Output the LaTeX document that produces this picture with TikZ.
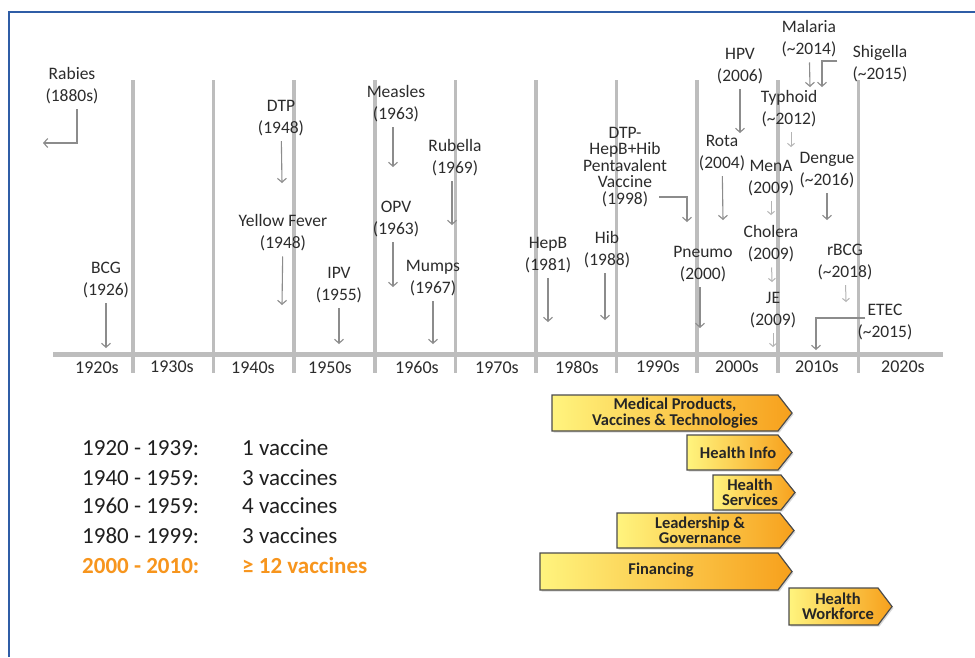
\documentclass[tikz,border=0pt]{standalone}
\usepackage{fontspec}
\setmainfont{Carlito}
\usetikzlibrary{arrows.meta,shadows}

\definecolor{frameblue}{HTML}{2F5DA6}
\definecolor{gridgray}{HTML}{BDBDBD}
\definecolor{arrowgray}{HTML}{8C8C8C}
\definecolor{lightarrow}{HTML}{B4B4B4}
\definecolor{labelgray}{HTML}{2C2C2C}
\definecolor{chevyellow}{HTML}{FFF47E}
\definecolor{chevorange}{HTML}{F7A01C}
\definecolor{highlight}{HTML}{F7951D}

\tikzset{
  vac/.style={align=center, text=labelgray, inner sep=2pt,
    font=\fontsize{17.5}{22}\selectfont},
  decade/.style={text=labelgray, inner sep=0pt, font=\fontsize{18}{22}\selectfont},
  gridline/.style={draw=gridgray, line width=3.5pt},
  arr/.style={draw=arrowgray, line width=1.1pt,
    -{Straight Barb[length=4pt,width=9pt]}, shorten <=3pt},
  shortarr/.style={draw=lightarrow, line width=1pt,
    -{Straight Barb[length=3pt,width=7pt]}, shorten <=3pt},
  chev/.style={draw=black!70, line width=1.2pt, left color=chevyellow,
    right color=chevorange,
    drop shadow={shadow xshift=1.5pt, shadow yshift=-1.5pt, opacity=0.3}},
  chevtext/.style={align=center, text=black!85, inner sep=0pt,
    font=\fontsize{16.5}{15.5}\selectfont\bfseries},
  tally/.style={anchor=west, text=black!88, inner sep=0pt,
    font=\fontsize{23}{28}\selectfont}
}

\begin{document}
\begin{tikzpicture}[x=1pt, y=-1pt]

\newcommand\D{80.6};

\useasboundingbox (0,0) rectangle (975,657);
\fill[white] (0,0) rectangle (975,657);
\draw[draw=frameblue, line width=2.5pt] (9,657) -- (9,12) -- (975,12);

%% decades
\draw[gridline] (133+0*\D, 80) -- (133+0*\D, 373);
\draw[gridline] (133+1*\D, 80) -- (133+1*\D, 373);
\draw[gridline] (133+2*\D, 80) -- (133+2*\D, 373);
\draw[gridline] (133+3*\D, 80) -- (133+3*\D, 373);
\draw[gridline] (133+4*\D, 80) -- (133+4*\D, 373);
\draw[gridline] (133+5*\D, 80) -- (133+5*\D, 373);
\draw[gridline] (133+6*\D, 80) -- (133+6*\D, 373);
\draw[gridline] (133+7*\D, 80) -- (133+7*\D, 373);
\draw[gridline] (133+8*\D, 80) -- (133+8*\D, 373);
\draw[gridline] (133+9*\D, 80) -- (133+9*\D, 373);
\draw[draw=gridgray, line width=5pt] (53,354) -- (943,354);

\node[decade] (d1920) at ( 97,368) {1920s};
\node[decade] (d1930) at (172,367) {1930s};
\node[decade] (d1940) at (253,368) {1940s};
\node[decade] (d1950) at (330,368) {1950s};
\node[decade] (d1960) at (417,367) {1960s};
\node[decade] (d1970) at (497,368) {1970s};
\node[decade] (d1980) at (577,367) {1980s};
\node[decade] (d1990) at (658,367) {1990s};
\node[decade] (d2000) at (737,367) {2000s};
\node[decade] (d2010) at (817,367) {2010s};
\node[decade] (d2020) at (903,367) {2020s};

%% vaccines
\node[vac] (rabies) at (72,86) {Rabies\\(1880s)};
\node[vac] (bcg) at (106,280) {BCG\\(1926)};
\node[vac] (dtp) at (281,118) {DTP\\(1948)};
\node[vac] (yfever) at (283,233) {Yellow Fever\\(1948)};
\node[vac] (ipv) at (339,285) {IPV\\(1955)};
\node[vac] (measles) at (396,104) {Measles\\(1963)};
\node[vac] (opv) at (396,219) {OPV\\(1963)};
\node[vac] (mumps) at (433,278) {Mumps\\(1967)};
\node[vac] (rubella) at (455,158) {Rubella\\(1969)};
\node[vac] (hepb) at (548,255) {HepB\\(1981)};
\node[vac] (hib) at (607,250) {Hib\\(1988)};
\node[vac, font=\fontsize{17.5}{16.5}\selectfont] (penta) at (625,167)
  {DTP-\\HepB+Hib\\Pentavalent\\Vaccine\\(1998)};
\node[vac] (pneumo) at (703,264) {Pneumo\\(2000)};
\node[vac] (hpv) at (740,66) {HPV\\(2006)};
\node[vac] (rota) at (722,153) {Rota\\(2004)};
\node[vac] (malaria) at (809,39) {Malaria\\(\textasciitilde2014)};
\node[vac] (shigella) at (880,64) {Shigella\\(\textasciitilde2015)};
\node[vac] (typhoid) at (789,109) {Typhoid\\(\textasciitilde2012)};
\node[vac] (mena) at (771,178) {MenA\\(2009)};
\node[vac] (dengue) at (827,170) {Dengue\\(\textasciitilde2016)};
\node[vac] (cholera) at (771,244) {Cholera\\(2009)};
\node[vac] (rbcg) at (845,262) {rBCG\\(\textasciitilde2018)};
\node[vac] (je) at (773,310) {JE\\(2009)};
\node[vac] (etec) at (885,322) {ETEC\\(\textasciitilde2015)};

\coordinate (rabies-e) at (43,143);
\coordinate (bcg-e) at (106,348);
\coordinate (dtp-e) at (282,183);
\coordinate (yfever-e) at (282,305);
\coordinate (ipv-e) at (339,344);
\coordinate (measles-e) at (393,167);
\coordinate (opv-e) at (393,287);
\coordinate (mumps-e) at (433,344);
\coordinate (rubella-e) at (452,225);
\coordinate (hepb-e) at (548,322);
\coordinate (hib-e) at (605,320);
\coordinate (penta-e) at (687,222);
\coordinate (pneumo-e) at (700,328);
\coordinate (hpv-e) at (740,133);
\coordinate (rota-e) at (723,220);
\coordinate (malaria-e) at (810,87);
\coordinate (shigella-e) at (822,87);
\coordinate (typhoid-e) at (791,147);
\coordinate (mena-e) at (771,215);
\coordinate (dengue-e) at (827,220);
\coordinate (cholera-e) at (772,282);
\coordinate (rbcg-e) at (846,302);
\coordinate (je-e) at (773,347);
\coordinate (etec-e) at (816,350);

\draw[arr] ([xshift=5pt]rabies.south) |- (rabies-e);
\draw[arr] (bcg) -- (bcg-e);
\draw[arr] (dtp) -- (dtp-e);
\draw[arr] (yfever) -- (yfever-e);
\draw[arr] (ipv) -- (ipv-e);
\draw[arr] ([xshift=-3pt]measles.south) -- (measles-e);
\draw[arr] ([xshift=-3pt]opv.south) -- (opv-e);
\draw[arr] (mumps) -- (mumps-e);
\draw[arr] ([xshift=-3pt]rubella.south) -- (rubella-e);
\draw[arr] (hepb) -- (hepb-e);
\draw[arr] ([xshift=-2pt]hib.south) -- (hib-e);
\draw[arr, shorten <=0pt] ([xshift=-10pt,yshift=12pt]penta.south east) -| (penta-e);
\draw[arr] ([xshift=-3pt]pneumo.south) -- (pneumo-e);
\draw[arr] (hpv) -- (hpv-e);
\draw[arr] (rota) -- (rota-e);
\draw[arr] (malaria) -- (malaria-e);
\draw[arr, shorten <=0pt] ([xshift=-13pt,yshift=3pt]shigella.west) -| (shigella-e);
\draw[shortarr] ([xshift=2pt]typhoid.south) -- (typhoid-e);
\draw[shortarr] (mena) -- (mena-e);
\draw[arr] (dengue) -- (dengue-e);
\draw[shortarr] (cholera) -- (cholera-e);
\draw[shortarr] (rbcg) -- (rbcg-e);
\draw[shortarr] (je) -- (je-e);
\draw[arr, shorten <=0pt] ([xshift=10pt,yshift=4pt]etec.west) -| (etec-e);

%% tally
\node[tally] (t1) at (82,448) {1920 - 1939:};
\node[tally] (t2) at (82,478) {1940 - 1959:};
\node[tally] (t3) at (82,506) {1960 - 1959:};
\node[tally] (t4) at (82,536) {1980 - 1999:};
\node[tally, text=highlight, font=\fontsize{23}{28}\selectfont\bfseries]
  (t5) at (82,566) {2000 - 2010:};
\node[tally] (n1) at (242,448) {1 vaccine};
\node[tally] (n2) at (242,478) {3 vaccines};
\node[tally] (n3) at (242,506) {4 vaccines};
\node[tally] (n4) at (242,536) {3 vaccines};
\node[tally, text=highlight, font=\fontsize{23}{28}\selectfont\bfseries]
  (n5) at (242,566) {≥ 12 vaccines};

%% health system blocks
\draw[chev] (552,395) -- (778,395) -- (792,413) -- (778,431) -- (552,431) -- cycle;
\node[chevtext] (medprod) at (675,413) {Medical Products,\\Vaccines \& Technologies};

\draw[chev] (687,435) -- (778,435) -- (792,452.5) -- (778,470) -- (687,470) -- cycle;
\node[chevtext] (info) at (738,452.5) {Health Info};

\draw[chev] (713,475) -- (781,475) -- (795,492.5) -- (781,510) -- (713,510) -- cycle;
\node[chevtext] (services) at (750,492.5) {Health\\Services};

\draw[chev] (617,513) -- (780,513) -- (794,530.5) -- (780,548) -- (617,548) -- cycle;
\node[chevtext] (leader) at (700,530.5) {Leadership \&\\Governance};

\draw[chev] (540,553) -- (778,553) -- (792,571.5) -- (778,590) -- (540,590) -- cycle;
\node[chevtext] (finance) at (661,570) {Financing};

\draw[chev] (789,588) -- (878,588) -- (892,606.5) -- (878,625) -- (789,625) -- cycle;
\node[chevtext] (workforce) at (838,606.5) {Health\\Workforce};

\end{tikzpicture}
\end{document}
